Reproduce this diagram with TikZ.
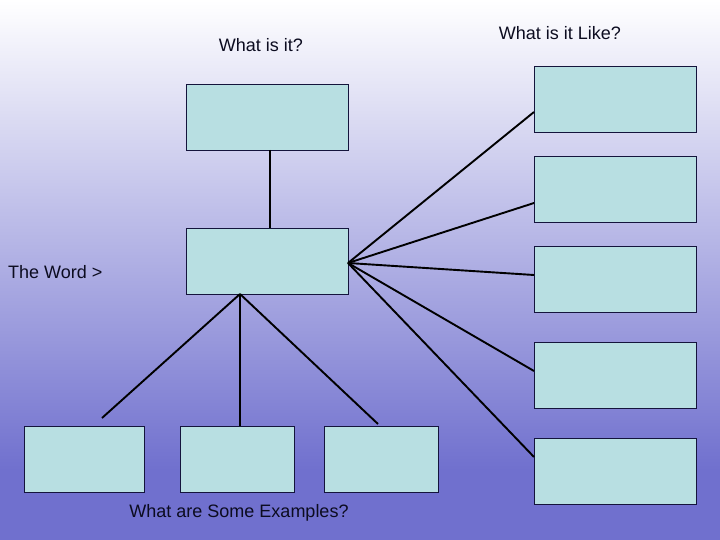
\documentclass[tikz,border=0pt]{standalone}
\usepackage{fontspec}
\setmainfont{Liberation Sans}
\definecolor{boxfill}{HTML}{B8DFE2}
\definecolor{boxline}{HTML}{14143C}
\definecolor{bgbot}{HTML}{7070CE}
\definecolor{txt}{HTML}{0C0C20}
\begin{document}
\begin{tikzpicture}[x=1pt,y=-1pt,
  card/.style={draw=boxline,line width=0.8pt,fill=boxfill},
  link/.style={draw=black,line width=1.9pt},
  lbl/.style={text=txt,font=\fontsize{18}{21}\selectfont,inner sep=0pt}]
\fill[bgbot] (0,0) rectangle (720,540);
\shade[top color=white,bottom color=bgbot] (0,0) rectangle (720,470);
\useasboundingbox (0,0) rectangle (720,540);
% boxes
\path[card] (186,84) rectangle (348,150); \coordinate (topB) at (270,150);
\path[card] (186,228) rectangle (348,294);
\coordinate (midT) at (270,228); \coordinate (midB) at (240,294); \coordinate (midR) at (348,263);
\path[card] (24,426) rectangle (144,492);
\path[card] (180,426) rectangle (294,492);
\path[card] (324,426) rectangle (438,492);
\path[card] (534,66) rectangle (696,132);
\path[card] (534,156) rectangle (696,222);
\path[card] (534,246) rectangle (696,312);
\path[card] (534,342) rectangle (696,408);
\path[card] (534,438) rectangle (696,504);
\coordinate (b1) at (102,418);
\coordinate (b2) at (240,426);
\coordinate (b3) at (378,424);
\coordinate (r1) at (534,112);
\coordinate (r2) at (534,203);
\coordinate (r3) at (534,275);
\coordinate (r4) at (534,371);
\coordinate (r5) at (534,457);
% links
\draw[link] (topB) -- (midT);
\draw[link] (midB) -- (b1);
\draw[link] (midB) -- (b2);
\draw[link] (midB) -- (b3);
\foreach \r in {r1,r2,r3,r4,r5} \draw[link] (midR) -- (\r);
% labels
\node[lbl] (t1) at (261,45) {What is it?};
\node[lbl] (t2) at (560,33) {What is it Like?};
\node[lbl,anchor=west] (t3) at (8,272) {The Word >};
\node[lbl] (t4) at (239,513) {What are Some Examples?};
\end{tikzpicture}
\end{document}
